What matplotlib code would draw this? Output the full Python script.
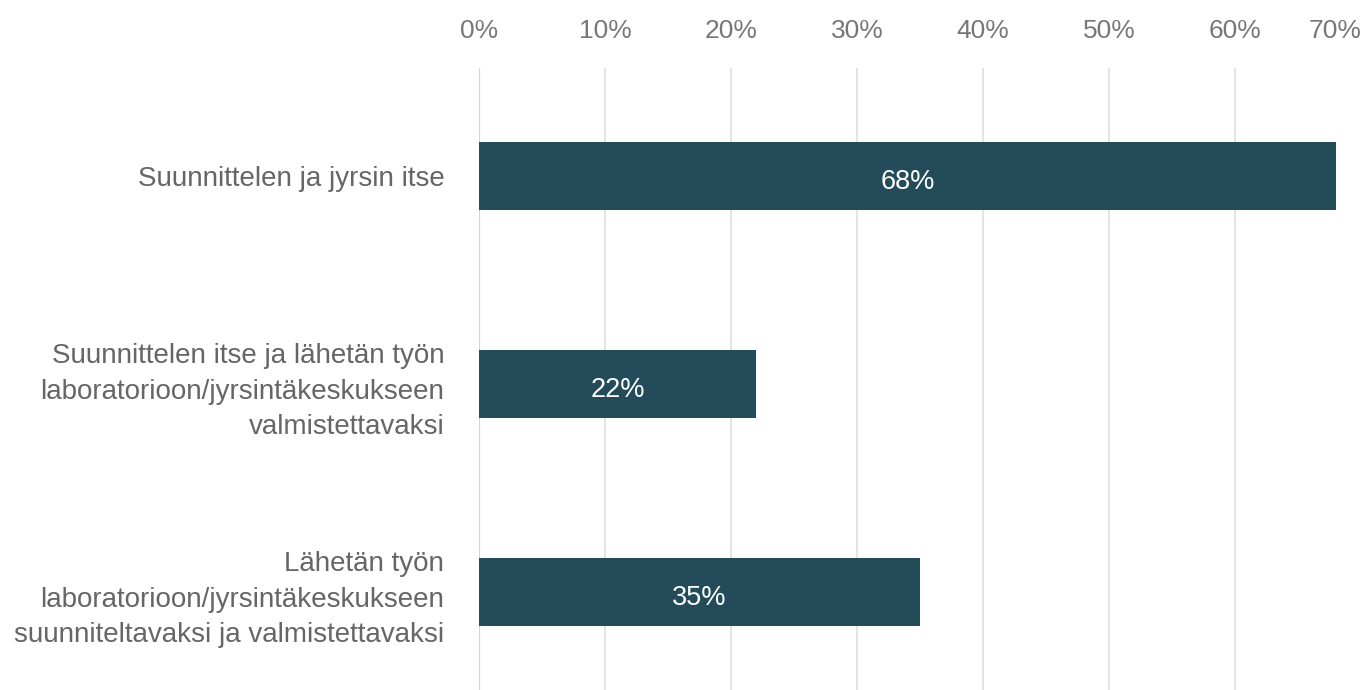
import matplotlib.pyplot as plt

plt.rcParams['font.family'] = ['Liberation Sans', 'DejaVu Sans']

categories = [
    'Suunnittelen ja jyrsin itse',
    'Suunnittelen itse ja lähetän työn\nlaboratorioon/jyrsintäkeskukseen\nvalmistettavaksi',
    'Lähetän työn\nlaboratorioon/jyrsintäkeskukseen\nsuunniteltavaksi ja valmistettavaksi',
]
shares = [0.68, 0.22, 0.35]
value_labels = ['68%', '22%', '35%']
ticks = [0, 0.1, 0.2, 0.3, 0.4, 0.5, 0.6, 0.7]
tick_labels = ['0%', '10%', '20%', '30%', '40%', '50%', '60%', '70%']

W, H = 1361, 690
fig = plt.figure(figsize=(W / 100, H / 100), dpi=100)
ax = fig.add_axes([479 / W, 0, (1361 - 479) / W, (690 - 68) / H])

pos = list(range(len(categories)))
ax.barh(pos, shares, height=0.327, color='#234b5a', zorder=3)
for p, v, lab in zip(pos, shares, value_labels):
    ax.text(v / 2, p + 0.015, lab, ha='center', va='center_baseline',
            color='white', fontsize=19.5, zorder=4)

ax.set_xlim(0, 0.7)
ax.set_ylim(2.471, -0.519)

ax.set_yticks(pos)
ax.set_yticklabels(categories, fontsize=20, color='#666666', linespacing=1.46)
ax.tick_params(axis='y', length=0, pad=25)

ax.xaxis.tick_top()
ax.set_xticks(ticks)
ax.set_xticklabels(tick_labels, fontsize=19, color='#777777')
ax.tick_params(axis='x', length=0, pad=18)
ax.xaxis.get_majorticklabels()[-1].set_horizontalalignment('right')

for t in ticks[1:-1]:
    ax.axvline(t, color='#e3e3e3', lw=1.4, zorder=1)
ax.axvline(0, color='#c9d4f0', lw=1.6, zorder=2)

for s in ax.spines.values():
    s.set_visible(False)

fig.savefig('out.png', dpi=100)
